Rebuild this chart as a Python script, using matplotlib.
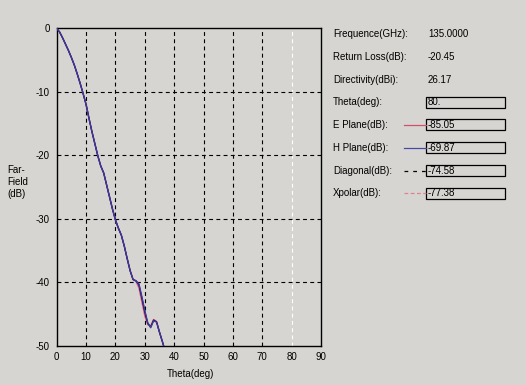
import matplotlib
matplotlib.use("Agg")
import matplotlib.pyplot as plt
from matplotlib.patches import Rectangle
from matplotlib.lines import Line2D

# ---- data ----
theta = [0, 1, 2, 3, 4, 5, 6, 7, 8, 9, 10, 11, 12, 13, 14, 15, 16, 17, 18, 19,
         20, 21, 22, 23, 24, 25, 26, 27, 28, 29, 30, 31, 32, 33, 34, 35, 36, 37]
h_plane = [0, -0.6, -1.5, -2.5, -3.5, -4.6, -5.8, -7.2, -8.7, -10.3, -12.0, -14.2,
           -16.3, -18.2, -20.1, -21.7, -22.8, -24.7, -26.6, -28.5, -30.2, -31.5,
           -32.6, -34.3, -36.3, -38.2, -39.6, -39.8, -40.3, -42.3, -44.5, -46.4,
           -47.2, -46.1, -46.3, -47.9, -49.4, -51.0]
e_plane = [0, -0.6, -1.5, -2.5, -3.5, -4.6, -5.8, -7.2, -8.7, -10.3, -12.0, -14.2,
           -16.3, -18.2, -20.1, -21.7, -22.8, -24.7, -26.6, -28.5, -30.2, -31.5,
           -32.6, -34.3, -36.3, -38.2, -39.6, -39.9, -40.9, -43.1, -45.3, -46.7,
           -46.9, -45.9, -46.2, -47.9, -49.4, -51.0]
diagonal = [0, -0.6, -1.5, -2.5, -3.5, -4.6, -5.8, -7.2, -8.7, -10.3, -12.0, -14.2,
            -16.3, -18.2, -20.1, -21.7, -22.8, -24.7, -26.6, -28.5, -30.2, -31.5,
            -32.6, -34.3, -36.3, -38.2, -39.6, -39.8, -40.4, -42.5, -44.7, -46.5,
            -47.1, -46.0, -46.3, -47.9, -49.4, -51.0]
x_ticks = [0, 10, 20, 30, 40, 50, 60, 70, 80, 90]
y_ticks = [0, -10, -20, -30, -40, -50]
cursor_theta = 80

info_labels = ["Frequence(GHz):", "Return Loss(dB):", "Directivity(dBi):"]
info_values = ["135.0000", "-20.45", "26.17"]
box_labels = ["Theta(deg):", "E Plane(dB):", "H Plane(dB):", "Diagonal(dB):", "Xpolar(dB):"]
box_values = ["80.", "-85.05", "-69.87", "-74.58", "-77.38"]

BG = "#d7d5d1"
FONT = "Liberation Sans"
FS = 7

W, H = 526, 385
fig = plt.figure(figsize=(W / 100, H / 100), dpi=100, facecolor=BG)
ax = fig.add_axes([56.7 / W, 1 - 345.5 / H, (321 - 56.7) / W, (345.5 - 28.3) / H])
ax.set_facecolor(BG)
ax.set_xlim(0, 90)
ax.set_ylim(-50, 0)

for xv in x_ticks[1:-1]:
    col = "white" if xv == cursor_theta else "black"
    ax.axvline(xv, color=col, lw=0.8, ls=(0, (3.5, 3)), zorder=1)
for yv in y_ticks[1:-1]:
    ax.axhline(yv, color="black", lw=0.8, ls=(0, (3.5, 3)), zorder=1)

ax.plot(theta, e_plane, color="#e0507a", lw=1.0, zorder=3)
ax.plot(theta, diagonal, color="black", lw=0.9, zorder=4)
ax.plot(theta, h_plane, color="#3a3aa8", lw=1.0, zorder=5)

ax.set_xticks(x_ticks)
ax.set_yticks(y_ticks)
ax.set_xticklabels([str(v) for v in x_ticks], fontfamily=FONT, fontsize=FS)
ax.set_yticklabels([str(v) for v in y_ticks], fontfamily=FONT, fontsize=FS)
ax.tick_params(length=0, pad=5)
for s in ax.spines.values():
    s.set_color("black")
    s.set_linewidth(1.0)

fig.text(190 / W, 1 - 374 / H, "Theta(deg)", ha="center", va="center",
         fontfamily=FONT, fontsize=FS)
fig.text(7.5 / W, 1 - 182 / H, "Far-\nField\n(dB)", ha="left", va="center",
         fontfamily=FONT, fontsize=FS, linespacing=1.25)

rows_y = [34, 57, 80, 102, 125, 147.5, 170.5, 193]
for i, (lab, val) in enumerate(zip(info_labels, info_values)):
    y = 1 - rows_y[i] / H
    fig.text(333 / W, y, lab, ha="left", va="center", fontfamily=FONT, fontsize=FS)
    fig.text(428 / W, y, val, ha="left", va="center", fontfamily=FONT, fontsize=FS)

legend_styles = [None,
                 dict(color="#d0506a", ls="-"),
                 dict(color="#4848a8", ls="-"),
                 dict(color="black", ls=(0, (3, 4))),
                 dict(color="#e08090", ls=(0, (3, 2)))]
for j, (lab, val) in enumerate(zip(box_labels, box_values)):
    yc = rows_y[3 + j]
    y = 1 - yc / H
    fig.text(333 / W, y, lab, ha="left", va="center", fontfamily=FONT, fontsize=FS)
    fig.patches.append(Rectangle((426 / W, 1 - (yc + 5.5) / H), 79 / W, 11 / H,
                                 transform=fig.transFigure, facecolor=BG,
                                 edgecolor="black", lw=0.9))
    fig.text(428 / W, y, val, ha="left", va="center", fontfamily=FONT, fontsize=FS)
    st = legend_styles[j]
    if st is not None:
        fig.lines.append(Line2D([404 / W, 426 / W], [y, y], transform=fig.transFigure,
                                color=st["color"], ls=st["ls"], lw=0.9))

fig.savefig("out.png", dpi=100, facecolor=BG)
